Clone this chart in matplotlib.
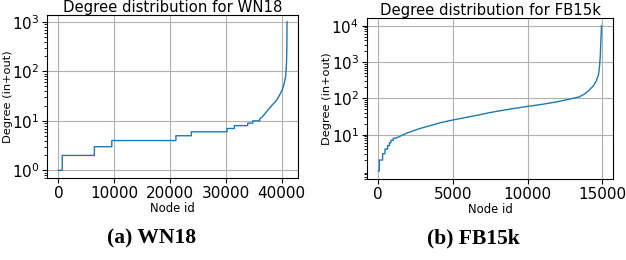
import matplotlib
matplotlib.use("Agg")
import matplotlib.pyplot as plt
import numpy as np

# WN18: sorted node degrees (vertices of the sorted-degree curve)
wn_node_ids = [0, 680, 680, 6430, 6430, 9550, 9550, 21040, 21040, 23790,
               23790, 30200, 30200, 31510, 31510, 33900, 33900, 34790,
               34790, 36050, 36050, 36500, 37000, 37400, 37800, 38300,
               38800, 39170, 39600, 40070, 40400, 40700, 40850, 40910,
               40942]
wn_degrees = [1, 1, 2, 2, 3, 3, 4, 4, 5, 5,
              6, 6, 7, 7, 8, 8, 9, 9,
              10, 10, 11, 12, 14, 16, 18, 21,
              24, 27, 33, 42, 55, 80, 150, 300,
              1000]

# FB15k: sorted node degrees
fb_node_ids = [0, 67, 67, 290, 290, 450, 450, 624, 624, 750, 750, 847,
               847, 1000, 1000, 1180, 1400, 1630, 1950, 2300, 2800, 3410,
               4200, 5017, 5900, 6750, 7400, 8090, 9000, 9990, 10600,
               11210, 11800, 12320, 12900, 13440, 13800, 14100, 14400,
               14600, 14750, 14820, 14870, 14910, 14950]
fb_degrees = [1, 1, 2, 2, 3, 3, 4, 4, 5, 5, 6, 6,
              7, 7, 8, 8, 8.8, 9.8, 11.2, 12.6, 14.8, 17.4,
              21.5, 25.5, 30, 35, 40, 45, 52, 60, 65,
              71, 78, 86, 97, 109, 130, 165, 220,
              300, 450, 780, 1500, 4000, 10000]

wn_xticks = [0, 10000, 20000, 30000, 40000]
fb_xticks = [0, 5000, 10000, 15000]
fb_yticks = [10, 100, 1000, 10000]

titles = ["Degree distribution for WN18", "Degree distribution for FB15k"]
captions = ["(a) WN18", "(b) FB15k"]

fig = plt.figure(figsize=(6.26, 2.6), dpi=100)
ax1 = fig.add_axes([0.0751, 0.3142, 0.4017, 0.6296])
ax2 = fig.add_axes([0.5858, 0.3104, 0.3939, 0.6192])

line_color = "#1f77b4"
tick_fs = 11

for ax, x, y, title in [(ax1, wn_node_ids, wn_degrees, titles[0]),
                        (ax2, fb_node_ids, fb_degrees, titles[1])]:
    ax.plot(x, y, color=line_color, lw=1.0)
    ax.set_yscale("log")
    ax.grid(True, which="major", color="#b0b0b0", lw=0.8)
    ax.set_title(title, fontsize=10.7, pad=2)
    ax.set_xlabel("Node id", fontsize=8.4, labelpad=1)
    ax.set_ylabel("Degree (in+out)", fontsize=8.2)
    ax.tick_params(axis="both", which="major", labelsize=tick_fs, pad=2)
    ax.set_axisbelow(True)

ax1.yaxis.set_label_coords(-0.137, 0.5)
ax2.yaxis.set_label_coords(-0.142, 0.5)

ax1.set_xticks(wn_xticks)
ax1.set_xlim(-2047, 42990)
ax1.set_ylim(0.69, 1400)

ax2.set_xticks(fb_xticks)
ax2.set_xlim(-776, 15740)
ax2.set_yticks(fb_yticks)
ax2.set_ylim(0.59, 16000)

serif = ["Liberation Serif", "DejaVu Serif"]
fig.text(151.5 / 626, 1 - 238 / 260, captions[0], ha="center", va="center",
         fontsize=15.5, fontweight="bold", family=serif)
fig.text(473 / 626, 1 - 238 / 260, captions[1], ha="center", va="center",
         fontsize=15.5, fontweight="bold", family=serif)

fig.savefig("out.png", dpi=100)
